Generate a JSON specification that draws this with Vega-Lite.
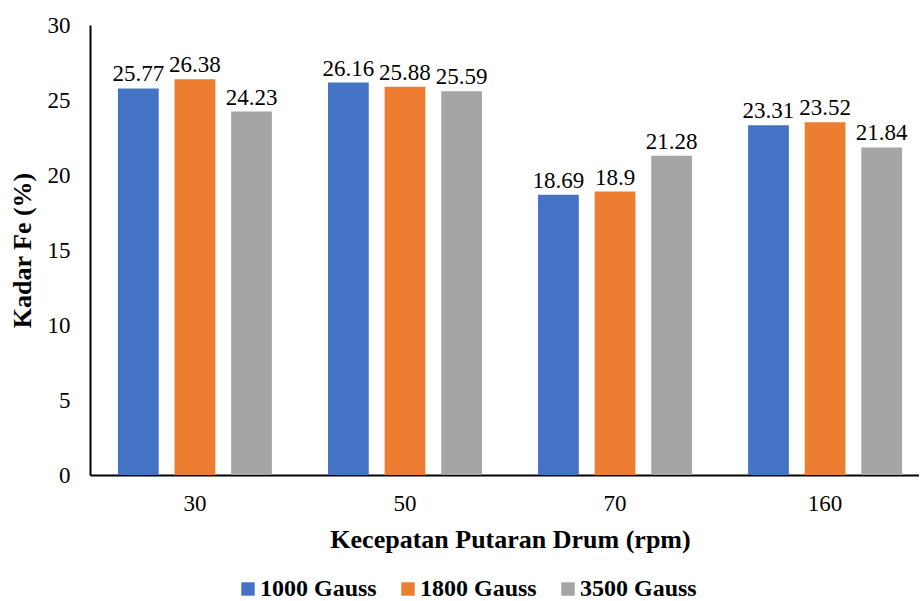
{
  "$schema": "https://vega.github.io/schema/vega-lite/v6.json",
  "autosize": {"type": "none"},
  "width": 829,
  "height": 450,
  "padding": {"left": 90, "top": 25, "right": 0, "bottom": 126},
  "background": "white",
  "config": {
    "font": "Liberation Serif",
    "view": {"stroke": null},
    "axis": {"labelFont": "Liberation Serif", "titleFont": "Liberation Serif", "labelColor": "#000", "titleColor": "#000"}
  },
  "data": {
    "values": [
      {"rpm": "30", "gauss": "1000 Gauss", "fe": 25.77},
      {"rpm": "30", "gauss": "1800 Gauss", "fe": 26.38},
      {"rpm": "30", "gauss": "3500 Gauss", "fe": 24.23},
      {"rpm": "50", "gauss": "1000 Gauss", "fe": 26.16},
      {"rpm": "50", "gauss": "1800 Gauss", "fe": 25.88},
      {"rpm": "50", "gauss": "3500 Gauss", "fe": 25.59},
      {"rpm": "70", "gauss": "1000 Gauss", "fe": 18.69},
      {"rpm": "70", "gauss": "1800 Gauss", "fe": 18.9},
      {"rpm": "70", "gauss": "3500 Gauss", "fe": 21.28},
      {"rpm": "160", "gauss": "1000 Gauss", "fe": 23.31},
      {"rpm": "160", "gauss": "1800 Gauss", "fe": 23.52},
      {"rpm": "160", "gauss": "3500 Gauss", "fe": 21.84}
    ]
  },
  "encoding": {
    "x": {
      "field": "rpm", "type": "nominal", "sort": ["30", "50", "70", "160"],
      "scale": {"paddingInner": 0.267, "paddingOuter": 0.133, "range": [0, 840]},
      "axis": {
        "title": "Kecepatan Putaran Drum (rpm)", "labelAngle": 0, "ticks": false,
        "domainColor": "#000", "domainWidth": 2, "labelFontSize": 23, "labelPadding": 17,
        "titleFontSize": 26, "titleFontWeight": "bold", "titlePadding": 11, "titleX": 420
      }
    },
    "xOffset": {"field": "gauss", "type": "nominal", "scale": {"paddingInner": 0.28, "paddingOuter": 0}},
    "y": {
      "field": "fe", "type": "quantitative",
      "scale": {"domain": [0, 30]},
      "axis": {
        "title": "Kadar Fe (%)", "values": [0, 5, 10, 15, 20, 25, 30], "grid": false, "ticks": false,
        "domainColor": "#000", "domainWidth": 2, "labelFontSize": 23, "labelPadding": 20,
        "titleFontSize": 26, "titleFontWeight": "bold", "titlePadding": 12
      }
    }
  },
  "layer": [
    {
      "mark": {"type": "bar"},
      "encoding": {
        "color": {
          "field": "gauss", "type": "nominal",
          "scale": {"domain": ["1000 Gauss", "1800 Gauss", "3500 Gauss"], "range": ["#4472C4", "#ED7D31", "#A5A5A5"]},
          "legend": {
            "title": null, "orient": "none", "legendX": 146, "legendY": 552, "direction": "horizontal",
            "padding": 0,
            "symbolType": "square", "symbolSize": 180, "symbolStrokeWidth": 0,
            "labelFont": "Liberation Serif", "labelFontSize": 24, "labelFontWeight": "bold", "labelColor": "#000",
            "columnPadding": 19, "labelOffset": 0
          }
        }
      }
    },
    {
      "mark": {"type": "text", "baseline": "alphabetic", "dy": -7, "fontSize": 23, "font": "Liberation Serif", "color": "#000"},
      "encoding": {"text": {"field": "fe", "type": "quantitative"}}
    }
  ]
}
